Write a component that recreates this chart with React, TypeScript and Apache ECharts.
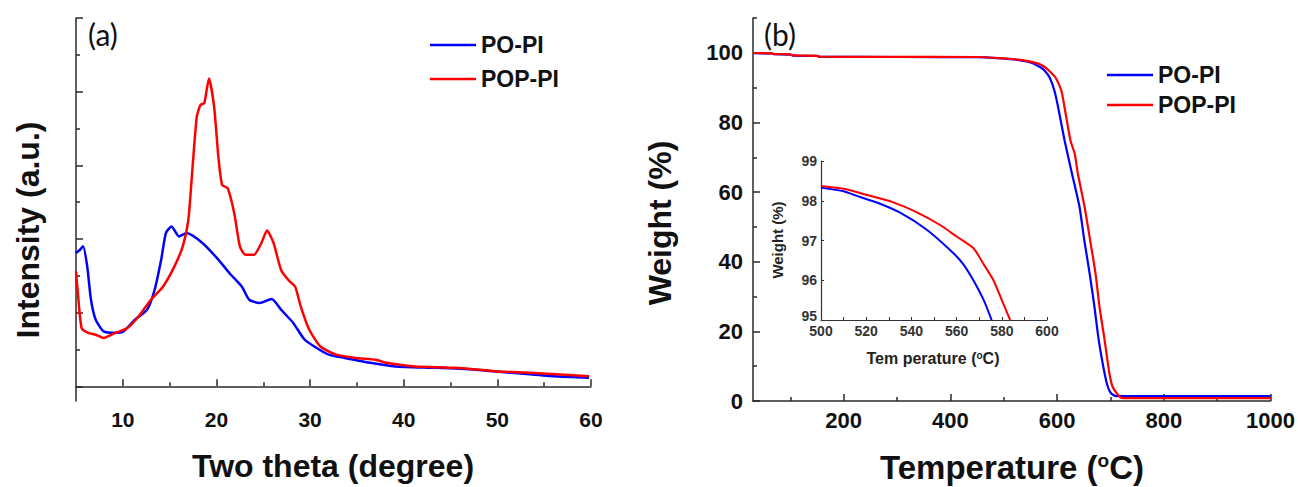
import React, { useEffect, useRef } from "react";
import * as echarts from "echarts";

// ---------- XRD (panel a) ----------
const xrdThetaPO = [5.0, 5.4, 5.76, 6.2, 6.6, 7.1, 7.95, 9.2, 10.06, 11.3, 12.6, 13.4, 14.1, 14.6, 15.2, 16.0, 16.8, 18.5, 20.2, 21.4, 22.7, 23.5, 24.6, 25.9, 26.9, 28.2, 29.4, 30.7, 32.0, 33.7, 36.6, 39.1, 43.4, 47.6, 51.8, 56.0, 59.8];
const xrdIntensityPO = [3.62, 3.7, 3.8, 3.25, 2.35, 1.81, 1.49, 1.45, 1.49, 1.81, 2.08, 2.62, 3.44, 4.16, 4.34, 4.07, 4.16, 3.89, 3.44, 3.07, 2.71, 2.35, 2.26, 2.37, 2.08, 1.72, 1.27, 1.04, 0.86, 0.77, 0.63, 0.54, 0.5, 0.45, 0.36, 0.27, 0.23];
const xrdThetaPOP = [5.0, 5.2, 5.6, 6.3, 7.1, 7.95, 9.2, 10.5, 11.7, 13.0, 14.3, 15.5, 16.4, 17.0, 17.4, 17.9, 18.3, 18.7, 19.2, 19.75, 20.2, 20.6, 21.2, 21.9, 22.5, 23.1, 24.0, 24.8, 25.4, 26.1, 26.9, 27.8, 28.4, 29.0, 29.9, 31.1, 32.8, 34.9, 37.0, 38.3, 41.2, 45.5, 49.7, 53.9, 59.8];
const xrdIntensityPOP = [3.12, 2.53, 1.58, 1.45, 1.4, 1.31, 1.45, 1.58, 1.9, 2.35, 2.71, 3.25, 3.8, 4.52, 5.79, 7.32, 7.64, 7.69, 8.36, 7.59, 6.24, 5.47, 5.38, 4.7, 3.8, 3.57, 3.57, 3.89, 4.23, 3.89, 3.16, 2.85, 2.71, 2.17, 1.54, 1.08, 0.86, 0.77, 0.72, 0.63, 0.54, 0.5, 0.41, 0.36, 0.27];
const xrdMajorTicks = [10, 20, 30, 40, 50, 60];
const xrdMinorTicks = [15, 25, 35, 45, 55];
const xrdYMajorTicks = [0, 2, 4, 6, 8, 10];
const xrdYMinorTicks = [1, 3, 5, 7, 9];

// ---------- TGA (panel b) ----------
const tgaTempPO = [30, 65, 70, 100, 105, 150, 155, 300, 450, 500, 520, 540, 550, 560, 570, 576, 586, 595, 602, 614, 628, 642, 651, 661, 670, 678, 689, 695, 701, 711, 1000];
const tgaWeightPO = [99.9, 99.8, 99.6, 99.5, 99.2, 99.1, 98.85, 98.8, 98.75, 98.35, 98.1, 97.6, 97.2, 96.6, 95.7, 95.0, 92.9, 89.1, 84.3, 74.8, 65.2, 55.7, 46.1, 36.6, 27.0, 17.5, 7.9, 4.1, 2.2, 1.4, 1.4];
const tgaTempPOP = [30, 65, 70, 100, 105, 150, 155, 300, 450, 500, 520, 540, 552, 560, 567, 576, 584, 597, 608, 614, 625, 633, 639, 651.5, 662, 672, 679.5, 689, 698, 704, 714, 723, 1000];
const tgaWeightPOP = [99.95, 99.85, 99.65, 99.55, 99.25, 99.15, 98.9, 98.85, 98.8, 98.38, 98.15, 97.75, 97.4, 97.1, 96.8, 96.0, 95.0, 92.9, 89.1, 84.3, 74.8, 71.0, 65.2, 55.7, 46.1, 36.6, 27.0, 17.5, 7.9, 4.1, 1.8, 0.8, 0.8];
const tgaXMajorTicks = [200, 400, 600, 800, 1000];
const tgaXMinorTicks = [100, 300, 500, 700, 900];
const tgaYMajorTicks = [0, 20, 40, 60, 80, 100];
const tgaYMinorTicks = [10, 30, 50, 70, 90, 110];

// ---------- Inset ----------
const insetTempPO = [500, 510, 517, 525, 535, 546.8, 558.6, 563, 567.4, 572, 575.5];
const insetWeightPO = [98.33, 98.24, 98.1, 97.95, 97.7, 97.27, 96.68, 96.4, 96.0, 95.5, 95.0];
const insetTempPOP = [500, 510, 520, 532, 542, 552.7, 560, 567.4, 572, 576.3, 580, 583.7];
const insetWeightPOP = [98.37, 98.3, 98.15, 97.96, 97.72, 97.39, 97.1, 96.81, 96.4, 96.0, 95.5, 95.0];
const insetXLabels = [500, 520, 540, 560, 580, 600];
const insetXTicks = [500, 510, 520, 530, 540, 550, 560, 570, 580, 590, 600];
const insetYTicks = [95, 96, 97, 98, 99];

const seriesNames = ["PO-PI", "POP-PI"];
const BLUE = "#0000ff";
const RED = "#ff0000";
const AX = "#2a2a2a";
const FONT = "'Liberation Sans', Arial, sans-serif";

const zip = (xs: number[], ys: number[]) => xs.map((x, i) => [x, ys[i]]);
const plain = (v: number) => String(v);

export default function App() {
  const ref = useRef<HTMLDivElement>(null);
  useEffect(() => {
    if (!ref.current) return;
    const chart = echarts.init(ref.current, undefined, { renderer: "svg" });
    const axLine = { show: true, lineStyle: { color: AX, width: 1.5 } };
    const tickStyle = { color: AX, width: 1.5 };
    const minorAxis = (grid: number, min: number, max: number, ticks: number[], len: number, pos: string) => ({
      gridIndex: grid,
      type: "value",
      min,
      max,
      position: pos,
      axisLine: { show: false },
      axisTick: { show: true, inside: true, length: len, customValues: ticks, lineStyle: tickStyle },
      axisLabel: { show: false },
      splitLine: { show: false },
    });
    const lineSeries = (name: string, data: number[][], color: string, xi: number, yi: number, w: number) => ({
      name,
      type: "line",
      data,
      xAxisIndex: xi,
      yAxisIndex: yi,
      showSymbol: false,
      symbol: "none",
      lineStyle: { color, width: w },
      itemStyle: { color },
      smooth: 0.2,
    });
    const legendText = { fontSize: 23, fontWeight: "bold", color: "#111", fontFamily: FONT, lineHeight: 24 };
    const option: any = {
      animation: false,
      backgroundColor: "#ffffff",
      textStyle: { fontFamily: FONT },
      grid: [
        { left: 76, top: 18, width: 515, height: 383 },
        { left: 753, top: 18, width: 519, height: 383 },
        { left: 821, top: 161, width: 226, height: 159 },
      ],
      xAxis: [
        {
          gridIndex: 0, type: "value", min: 5, max: 60, position: "bottom",
          axisLine: axLine,
          axisTick: { show: true, inside: true, length: 7, customValues: xrdMajorTicks, lineStyle: tickStyle },
          axisLabel: { customValues: xrdMajorTicks, formatter: plain, fontSize: 21, fontWeight: "bold", color: "#111", margin: 8, fontFamily: FONT },
          splitLine: { show: false },
        },
        minorAxis(0, 5, 60, xrdMinorTicks, 4, "bottom"),
        {
          gridIndex: 1, type: "value", min: 30, max: 1000, position: "bottom",
          axisLine: axLine,
          axisTick: { show: true, inside: true, length: 7, customValues: tgaXMajorTicks, lineStyle: tickStyle },
          axisLabel: { customValues: tgaXMajorTicks, formatter: plain, fontSize: 22, fontWeight: "bold", color: "#111", margin: 8, fontFamily: FONT },
          splitLine: { show: false },
        },
        minorAxis(1, 30, 1000, tgaXMinorTicks, 4, "bottom"),
        {
          gridIndex: 2, type: "value", min: 500, max: 600, position: "bottom",
          axisLine: { show: true, lineStyle: { color: "#333", width: 1.2 } },
          axisTick: { show: true, inside: true, length: 3, customValues: insetXTicks, lineStyle: { color: "#333", width: 1 } },
          axisLabel: { customValues: insetXLabels, formatter: plain, fontSize: 14, fontWeight: "bold", color: "#333", margin: 4, fontFamily: FONT },
          splitLine: { show: false },
        },
      ],
      yAxis: [
        {
          gridIndex: 0, type: "value", min: -0.4, max: 10, position: "left",
          axisLine: axLine,
          axisTick: { show: true, inside: true, length: 7, customValues: xrdYMajorTicks, lineStyle: tickStyle },
          axisLabel: { show: false },
          splitLine: { show: false },
        },
        minorAxis(0, -0.4, 10, xrdYMinorTicks, 4, "left"),
        {
          gridIndex: 1, type: "value", min: 0, max: 110, position: "left",
          axisLine: axLine,
          axisTick: { show: true, inside: true, length: 7, customValues: tgaYMajorTicks, lineStyle: tickStyle },
          axisLabel: { customValues: tgaYMajorTicks, formatter: plain, fontSize: 22, fontWeight: "bold", color: "#111", margin: 10, fontFamily: FONT },
          splitLine: { show: false },
        },
        minorAxis(1, 0, 110, tgaYMinorTicks, 4, "left"),
        {
          gridIndex: 2, type: "value", min: 95, max: 99, position: "left",
          axisLine: { show: true, lineStyle: { color: "#333", width: 1.2 } },
          axisTick: { show: true, inside: true, length: 3, customValues: insetYTicks, lineStyle: { color: "#333", width: 1 } },
          axisLabel: {
            customValues: insetYTicks,
            formatter: (v: number) => (v === insetYTicks[0] ? "{lo|" + v + "}" : String(v)),
            rich: { lo: { fontSize: 14, fontWeight: "bold", color: "#333", fontFamily: FONT, padding: [0, 0, 9, 0] } },
            fontSize: 14, fontWeight: "bold", color: "#333", margin: 4, fontFamily: FONT,
          },
          splitLine: { show: false },
        },
      ],
      legend: [
        {
          data: seriesNames, orient: "vertical", left: 425, top: 28, icon: "rect", itemWidth: 46, itemHeight: 2.5, itemGap: 10,
          textStyle: legendText, selectedMode: false,
        },
        {
          data: seriesNames, orient: "vertical", left: 1102, top: 58, icon: "rect", itemWidth: 46, itemHeight: 2.5, itemGap: 6,
          textStyle: legendText, selectedMode: false,
        },
      ],
      series: [
        lineSeries(seriesNames[0], zip(xrdThetaPO, xrdIntensityPO), BLUE, 0, 0, 2.5),
        lineSeries(seriesNames[1], zip(xrdThetaPOP, xrdIntensityPOP), RED, 0, 0, 2.5),
        lineSeries(seriesNames[0], zip(tgaTempPO, tgaWeightPO), BLUE, 2, 2, 2.2),
        lineSeries(seriesNames[1], zip(tgaTempPOP, tgaWeightPOP), RED, 2, 2, 2.2),
        lineSeries(seriesNames[0], zip(insetTempPO, insetWeightPO), BLUE, 4, 4, 2),
        lineSeries(seriesNames[1], zip(insetTempPOP, insetWeightPOP), RED, 4, 4, 2),
      ],
      graphic: [
        { type: "text", x: 88, y: 34, style: { text: "(a)", fontSize: 30, fontFamily: "Lato, sans-serif", fill: "#111", verticalAlign: "middle" } },
        { type: "text", x: 764, y: 34, style: { text: "(b)", fontSize: 30, fontFamily: "Lato, sans-serif", fill: "#111", verticalAlign: "middle" } },
        { type: "text", x: 333, y: 466, style: { text: "Two theta (degree)", fontSize: 32, fontWeight: "bold", fontFamily: FONT, fill: "#111", align: "center", verticalAlign: "middle" } },
        { type: "text", x: 28, y: 230, rotation: Math.PI / 2, style: { text: "Intensity (a.u.)", fontSize: 32, fontWeight: "bold", fontFamily: FONT, fill: "#111", align: "center", verticalAlign: "middle" } },
        { type: "text", x: 660, y: 223, rotation: Math.PI / 2, style: { text: "Weight (%)", fontSize: 32, fontWeight: "bold", fontFamily: FONT, fill: "#111", align: "center", verticalAlign: "middle" } },
        {
          type: "text", x: 1012, y: 467,
          style: {
            text: "Temperature ({s|o}C)", fontSize: 33, fontWeight: "bold", fontFamily: FONT, fill: "#111", align: "center", verticalAlign: "middle",
            rich: { s: { fontSize: 19, fontWeight: "bold", fontFamily: FONT, fill: "#111", verticalAlign: "top", lineHeight: 33 } },
          },
        },
        { type: "text", x: 777, y: 240, rotation: Math.PI / 2, style: { text: "Weight (%)", fontSize: 15, fontWeight: "bold", fontFamily: FONT, fill: "#222", align: "center", verticalAlign: "middle" } },
        {
          type: "text", x: 933, y: 358,
          style: {
            text: "Tem perature ({s|o}C)", fontSize: 16, fontWeight: "bold", fontFamily: FONT, fill: "#222", align: "center", verticalAlign: "middle",
            rich: { s: { fontSize: 10, fontWeight: "bold", fontFamily: FONT, fill: "#222", verticalAlign: "top", lineHeight: 16 } },
          },
        },
      ],
    };
    chart.setOption(option);
    return () => chart.dispose();
  }, []);
  return <div ref={ref} style={{ position: "fixed", left: 0, top: 0, width: 1298, height: 487, background: "#fff" }} />;
}
